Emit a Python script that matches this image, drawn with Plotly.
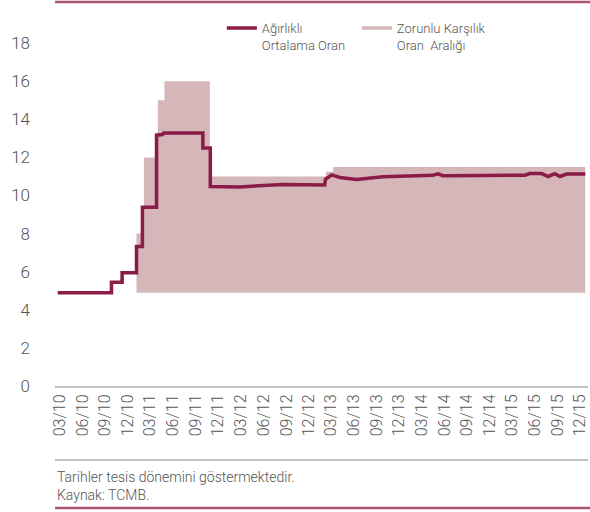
import plotly.graph_objects as go

# Weighted average rate (vertical steps are given as repeated dates)
line_dates = ["2010-02-21", "2010-09-26", "2010-09-26", "2010-11-08", "2010-11-08",
              "2011-01-05", "2011-01-05", "2011-01-29", "2011-01-29", "2011-03-27",
              "2011-03-27", "2011-04-20", "2011-04-25", "2011-09-30", "2011-09-30",
              "2011-10-30", "2011-10-30", "2012-02-25", "2012-08-17", "2012-12-01",
              "2013-02-03", "2013-02-06", "2013-03-03", "2013-04-05", "2013-06-12",
              "2013-09-26", "2013-12-15", "2014-04-16", "2014-05-06", "2014-05-26",
              "2014-11-04", "2015-04-22", "2015-05-12", "2015-06-29", "2015-07-25",
              "2015-08-21", "2015-09-11", "2015-10-08", "2015-12-22"]
line_values = [4.9, 4.9, 5.45, 5.45, 5.95,
               5.95, 7.33, 7.33, 9.38, 9.38,
               13.17, 13.2, 13.28, 13.28, 12.49,
               12.49, 10.47, 10.45, 10.58, 10.56,
               10.55, 10.85, 11.08, 10.95, 10.84,
               10.98, 11.02, 11.06, 11.14, 11.04,
               11.05, 11.07, 11.15, 11.15, 11.0,
               11.15, 11.0, 11.13, 11.13]

# Required reserve ratio range (lower / upper bound)
range_dates = ["2011-01-05", "2011-02-04", "2011-04-01", "2011-04-28", "2011-10-28",
               "2013-02-08", "2013-03-09", "2015-12-22"]
range_upper = [8, 12, 15, 16, 11, 11.25, 11.5, 11.5]
range_lower = [4.9, 4.9, 4.9, 4.9, 4.9, 4.9, 4.9, 4.9]

tick_dates = ["2010-03-01", "2010-06-01", "2010-09-01", "2010-12-01",
              "2011-03-01", "2011-06-01", "2011-09-01", "2011-12-01",
              "2012-03-01", "2012-06-01", "2012-09-01", "2012-12-01",
              "2013-03-01", "2013-06-01", "2013-09-01", "2013-12-01",
              "2014-03-01", "2014-06-01", "2014-09-01", "2014-12-01",
              "2015-03-01", "2015-06-01", "2015-09-01", "2015-12-01"]
tick_labels = ["03/10", "06/10", "09/10", "12/10", "03/11", "06/11", "09/11", "12/11",
               "03/12", "06/12", "09/12", "12/12", "03/13", "06/13", "09/13", "12/13",
               "03/14", "06/14", "09/14", "12/14", "03/15", "06/15", "09/15", "12/15"]
y_ticks = [0, 2, 4, 6, 8, 10, 12, 14, 16, 18]

LINE_COLOR = "#8b1b47"
AREA_COLOR = "#d5b6b9"
RULE_COLOR = "#a8566f"
GRAY = "#c2c2c2"
TEXT = "#555555"
FONT = "Roboto"

fig = go.Figure()
fig.add_trace(go.Scatter(x=range_dates, y=range_lower, mode="lines", line=dict(width=0, shape="hv"),
                         showlegend=False, hoverinfo="skip"))
fig.add_trace(go.Scatter(x=range_dates, y=range_upper, mode="lines", line=dict(width=0, shape="hv"),
                         fill="tonexty", fillcolor=AREA_COLOR, showlegend=False))
fig.add_trace(go.Scatter(x=line_dates, y=line_values, mode="lines",
                         line=dict(color=LINE_COLOR, width=3.5),
                         name="Ağırlıklı<br>Ortalama Oran"))
fig.add_trace(go.Scatter(x=[None], y=[None], mode="lines",
                         line=dict(color=AREA_COLOR, width=3.5),
                         name="Zorunlu Karşılık<br>Oran  Aralığı"))

fig.update_layout(
    width=590, height=512,
    margin=dict(l=55, r=2, t=26, b=126, autoexpand=False),
    paper_bgcolor="white", plot_bgcolor="white",
    font=dict(family=FONT, color=TEXT, size=14, weight=300),
    legend=dict(orientation="h", x=0.313, xanchor="left", y=1.036, yanchor="top",
                traceorder="normal",
                font=dict(size=13, color=TEXT, family=FONT, weight=300),
                valign="top", entrywidth=90, entrywidthmode="pixels",
                bgcolor="rgba(0,0,0,0)"),
    xaxis=dict(type="date", range=["2010-02-10", "2016-01-02"], automargin=False,
               tickmode="array", tickvals=tick_dates, ticktext=tick_labels,
               tickangle=-90, showgrid=False, zeroline=False,
               showline=True, linecolor=GRAY, linewidth=2, ticks="",
               tickfont=dict(size=16, color=TEXT, family=FONT, weight=300)),
    yaxis=dict(range=[0, 18.9], tickmode="array", tickvals=y_ticks, automargin=False,
               showgrid=False, zeroline=False, showline=False, ticks="",
               ticklabelstandoff=24,
               tickfont=dict(size=17, color=TEXT, family=FONT, weight=300)),
    shapes=[
        dict(type="line", xref="paper", yref="paper", x0=0, x1=1.004,
             y0=(386 - 2) / 360, y1=(386 - 2) / 360, line=dict(color=RULE_COLOR, width=2.5)),
        dict(type="line", xref="paper", yref="paper", x0=0, x1=1.004,
             y0=(386 - 508) / 360, y1=(386 - 508) / 360, line=dict(color=RULE_COLOR, width=2.5)),
        dict(type="line", xref="paper", yref="paper", x0=0, x1=1.0,
             y0=(386 - 460) / 360, y1=(386 - 460) / 360, line=dict(color=GRAY, width=2)),
    ],
    annotations=[
        dict(xref="paper", yref="paper", x=0, y=(386 - 467) / 360, xanchor="left", yanchor="top",
             align="left", showarrow=False,
             text="Tarihler tesis dönemini göstermektedir.<br>Kaynak: TCMB.",
             font=dict(size=14, color=TEXT, family=FONT, weight=300)),
    ],
)

fig.write_html("out.html", config={"displayModeBar": False},
               post_script="document.body.style.margin='0';")
